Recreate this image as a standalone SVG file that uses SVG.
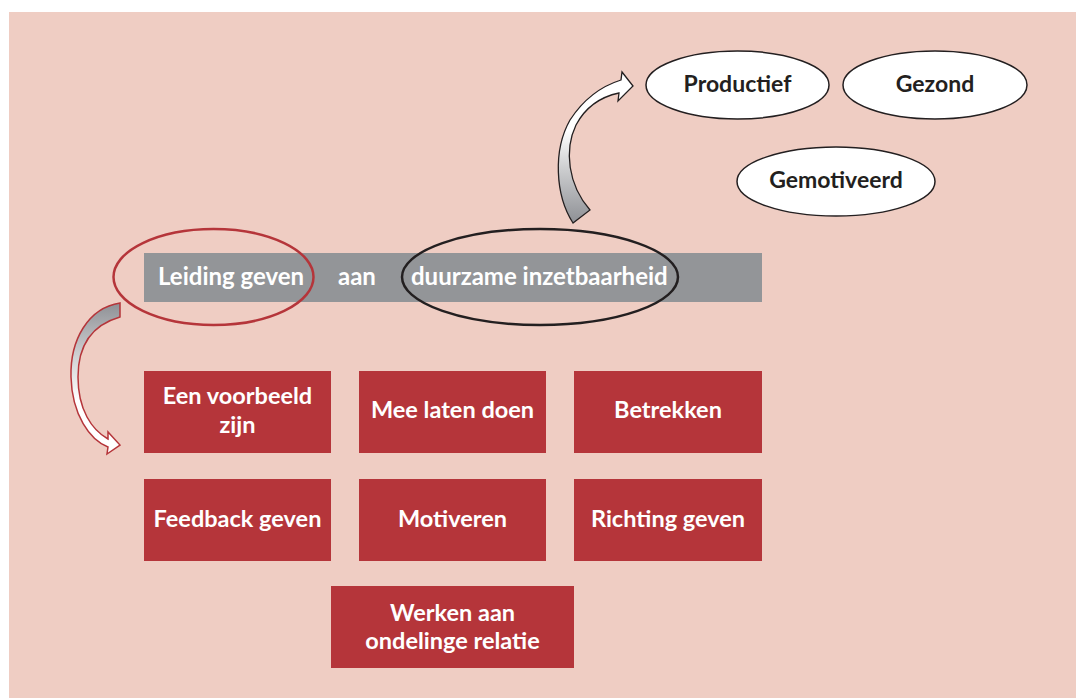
<svg xmlns="http://www.w3.org/2000/svg" width="1076" height="698" viewBox="0 0 1076 698">
<defs>
<style>
.t{font-family:Lato,"Open Sans","Liberation Sans",sans-serif;font-weight:bold;font-size:23.5px;}
.bar{font-size:24px;}
.w{fill:#ffffff;}
.d{fill:#231f20;text-anchor:middle;font-size:23px;}
.box{fill:#b5353a;}
.bt{fill:#ffffff;text-anchor:middle;}
.oval{fill:#ffffff;stroke:#231f20;stroke-width:1.5;}
</style>
<linearGradient id="gTop" x1="0" y1="223" x2="0" y2="130" gradientUnits="userSpaceOnUse">
<stop offset="0" stop-color="#8e9095"/>
<stop offset="0.55" stop-color="#c9cacc"/>
<stop offset="1" stop-color="#ffffff"/>
</linearGradient>
<linearGradient id="gLeft" x1="0" y1="303" x2="0" y2="400" gradientUnits="userSpaceOnUse">
<stop offset="0" stop-color="#8e9095"/>
<stop offset="0.55" stop-color="#d0d1d3"/>
<stop offset="1" stop-color="#ffffff"/>
</linearGradient>
</defs>
<rect x="0" y="0" width="1076" height="698" fill="#ffffff"/>
<rect x="9" y="12" width="1067" height="686" fill="#efcdc3"/>

<g id="bar">
<rect x="144" y="253" width="618" height="49" fill="#939598"/>
<text class="t bar w" x="158" y="285">Leiding geven</text>
<text class="t bar w" x="338" y="285">aan</text>
<text class="t bar w" x="411" y="285">duurzame inzetbaarheid</text>
</g>
<g id="ellipse-leiding">
<ellipse cx="213.5" cy="277" rx="100" ry="48" fill="none" stroke="#b5353a" stroke-width="2.5"/>
</g>
<g id="ellipse-duurzaam">
<ellipse cx="540" cy="277" rx="138" ry="48" fill="none" stroke="#231f20" stroke-width="2.5"/>
</g>

<g id="connectors">
<path d="M573,223 C555,195 553,150 570,120 C585,97 605,85 621,80 L622,72 L633,86 L618,101 L619,93 C600,97 585,108 576,125 C564,150 568,185 590,210 Z" fill="url(#gTop)" stroke="#231f20" stroke-width="1.3" stroke-linejoin="miter"/>
<path d="M120,303 C88,308 70,340 71,377 C72,415 90,440 108,447 L107,454 L120,445 L108,432 L108,439 C92,430 78,410 78,377 C78,345 92,325 120,317 Z" fill="url(#gLeft)" stroke="#b5353a" stroke-width="1.5"/>
</g>

<g id="productief">
<ellipse class="oval" cx="737.5" cy="85" rx="91.5" ry="34"/>
<text class="t d" x="737.5" y="92">Productief</text>
</g>
<g id="gezond">
<ellipse class="oval" cx="935" cy="85" rx="92" ry="34"/>
<text class="t d" x="935" y="92">Gezond</text>
</g>
<g id="gemotiveerd">
<ellipse class="oval" cx="836" cy="181.5" rx="99" ry="34.5"/>
<text class="t d" x="836" y="188">Gemotiveerd</text>
</g>

<g id="voorbeeld">
<rect class="box" x="144" y="371" width="187" height="82"/>
<text class="t bt" x="237.5" y="404">Een voorbeeld</text>
<text class="t bt" x="237.5" y="433">zijn</text>
</g>
<g id="meelaten">
<rect class="box" x="359" y="371" width="187" height="82"/>
<text class="t bt" x="452.5" y="418">Mee laten doen</text>
</g>
<g id="betrekken">
<rect class="box" x="574" y="371" width="188" height="82"/>
<text class="t bt" x="668" y="418">Betrekken</text>
</g>
<g id="feedback">
<rect class="box" x="144" y="479" width="187" height="82"/>
<text class="t bt" x="237.5" y="527">Feedback geven</text>
</g>
<g id="motiveren">
<rect class="box" x="359" y="479" width="187" height="82"/>
<text class="t bt" x="452.5" y="527">Motiveren</text>
</g>
<g id="richting">
<rect class="box" x="574" y="479" width="188" height="82"/>
<text class="t bt" x="668" y="527">Richting geven</text>
</g>
<g id="werken">
<rect class="box" x="331" y="586" width="243" height="82"/>
<text class="t bt" x="452.5" y="621">Werken aan</text>
<text class="t bt" x="452.5" y="649">ondelinge relatie</text>
</g>
</svg>
